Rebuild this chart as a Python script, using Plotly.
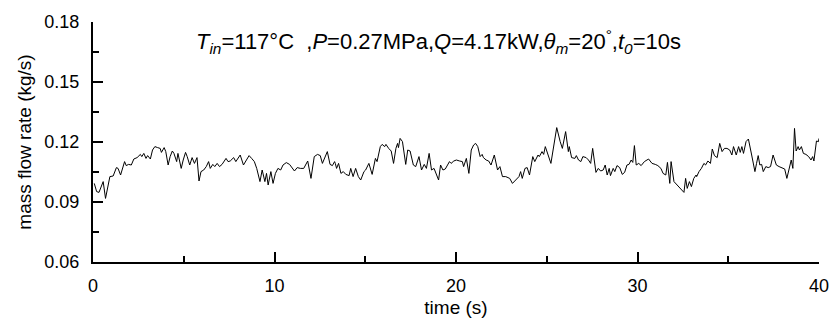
import plotly.graph_objects as go

# time (s) and mass flow rate (kg/s)
time_s = [
    0.07, 0.20, 0.33, 0.56, 0.69, 0.93, 1.11, 1.29, 1.38, 1.52, 1.74, 1.83, 1.96, 2.11, 2.25, 2.43,
    2.61, 2.69, 2.80, 2.92, 3.01, 3.16, 3.28, 3.41, 3.56, 3.70, 3.77, 3.92, 4.01, 4.14, 4.25, 4.37,
    4.46, 4.61, 4.68, 4.79, 4.86, 4.97, 5.10, 5.19, 5.33, 5.46, 5.59, 5.73, 5.84, 5.95, 6.10, 6.24,
    6.37, 6.46, 6.60,
    6.71, 6.84, 6.97, 7.11, 7.33, 7.44, 7.56, 7.75, 7.87, 8.11, 8.29, 8.42, 8.60, 8.74, 8.89, 9.02,
    9.20, 9.32, 9.47, 9.56, 9.65, 9.80, 9.92, 10.05, 10.19, 10.34, 10.47, 10.65, 10.83, 11.10, 11.25,
    11.43, 11.61, 11.83, 12.01, 12.19, 12.37, 12.52, 12.64, 12.91, 13.06, 13.19, 13.31,
    13.35, 13.42, 13.53, 13.66, 13.79, 13.93, 14.11, 14.20, 14.33, 14.47, 14.62, 14.75, 14.93, 15.02,
    15.20, 15.38, 15.56, 15.65, 15.83, 15.93, 16.07, 16.14, 16.29, 16.43, 16.56, 16.69, 16.78, 16.83,
    16.92, 17.05, 17.23, 17.34, 17.47, 17.65, 17.78, 17.96, 18.10, 18.25, 18.37, 18.52, 18.65, 18.79,
    19.04, 19.15, 19.28, 19.41, 19.64, 19.73, 19.88,
    20.02, 20.20, 20.35, 20.42, 20.57, 20.71, 20.84, 20.97, 21.08, 21.20, 21.33, 21.44, 21.51, 21.66,
    21.80, 21.93, 22.11, 22.29, 22.42, 22.56, 22.74, 22.96, 23.11, 23.29, 23.47, 23.56, 23.65, 23.80,
    23.92, 24.05, 24.23, 24.34, 24.52, 24.59, 24.74, 24.83, 24.92, 25.23, 25.37, 25.55, 25.74, 25.86,
    26.04, 26.19, 26.24, 26.37, 26.55,
    26.63, 26.75, 26.88, 26.99, 27.17, 27.30, 27.42, 27.53, 27.71, 27.84, 27.97, 28.11, 28.22, 28.33,
    28.44, 28.51, 28.66, 28.75, 28.87, 29.02, 29.16, 29.29, 29.42, 29.53, 29.65, 29.74, 29.83, 29.93,
    30.07, 30.20, 30.38, 30.61, 30.80, 30.98, 31.12, 31.29, 31.41, 31.56, 31.65, 31.78, 31.85, 32.01,
    32.19, 32.32, 32.56, 32.65, 32.74, 32.86, 32.97, 33.10, 33.23,
    33.26, 33.39, 33.52, 33.66, 33.75, 33.88, 34.02, 34.12, 34.24, 34.39, 34.53, 34.66, 34.79, 34.93,
    35.08, 35.20, 35.29, 35.44, 35.57, 35.66, 35.75, 35.84, 35.98, 36.11, 36.29, 36.47, 36.56, 36.65,
    36.74, 36.84, 36.93, 37.07, 37.20, 37.33, 37.47, 37.65, 37.80, 37.92, 38.11, 38.23, 38.38, 38.47,
    38.56, 38.65, 38.74, 38.85, 38.92, 39.03, 39.14, 39.28, 39.43, 39.56, 39.65, 39.72, 39.86, 39.97,
    40.00,
]

mass_flow = [
    0.0993, 0.0952, 0.0948, 0.1002, 0.0918, 0.1027, 0.1030, 0.1072, 0.1068, 0.1035, 0.1102, 0.1082,
    0.1088, 0.1085, 0.1115, 0.1122, 0.1138, 0.1127, 0.1143, 0.1118, 0.1132, 0.1115, 0.1160, 0.1177,
    0.1172, 0.1168, 0.1148, 0.1172, 0.1152, 0.1085, 0.1127, 0.1155, 0.1143, 0.1102, 0.1143, 0.1102,
    0.1068, 0.1110, 0.1148, 0.1127, 0.1085, 0.1122, 0.1093, 0.1122, 0.1005, 0.1052, 0.1060, 0.1077,
    0.1102, 0.1068, 0.1088,
    0.1077, 0.1093, 0.1077, 0.1088, 0.1118, 0.1102, 0.1105, 0.1122, 0.1102, 0.1135, 0.1085, 0.1102,
    0.1132, 0.1118, 0.1102, 0.1068, 0.1002, 0.1060, 0.1002, 0.1043, 0.0985, 0.1052, 0.0993, 0.1043,
    0.1068, 0.1060, 0.1085, 0.1097, 0.1088, 0.1055, 0.1072, 0.1068, 0.1068, 0.1105, 0.1018, 0.1127,
    0.1138, 0.1132, 0.1093, 0.1152, 0.1088, 0.1082, 0.1102,
    0.1093, 0.1068, 0.1093, 0.1043, 0.1052, 0.1038, 0.1032, 0.1068, 0.1027, 0.1068, 0.1027, 0.1010,
    0.1052, 0.1060, 0.1093, 0.1038, 0.1118, 0.1102, 0.1177, 0.1188, 0.1177, 0.1188, 0.1168, 0.1155,
    0.1093, 0.1168, 0.1193, 0.1172, 0.1218, 0.1202, 0.1088, 0.1160, 0.1155, 0.1085, 0.1077, 0.1127,
    0.1060, 0.1088, 0.1068, 0.1143, 0.1060, 0.1068, 0.1010, 0.1085, 0.1060, 0.1065, 0.1102, 0.1093,
    0.1105,
    0.1110, 0.1105, 0.1102, 0.1077, 0.1118, 0.1043, 0.1160, 0.1185, 0.1193, 0.1177, 0.1127, 0.1138,
    0.1122, 0.1110, 0.1105, 0.1085, 0.1135, 0.1060, 0.1077, 0.1027, 0.1027, 0.1018, 0.0993, 0.1010,
    0.1027, 0.1052, 0.1018, 0.1068, 0.1072, 0.1035, 0.1127, 0.1102, 0.1135, 0.1127, 0.1152, 0.1138,
    0.1177, 0.1093, 0.1177, 0.1272, 0.1202, 0.1168, 0.1252, 0.1152, 0.1177, 0.1122, 0.1118,
    0.1132, 0.1110, 0.1102, 0.1127, 0.1122, 0.1110, 0.1093, 0.1168, 0.1048, 0.1068, 0.1055, 0.1060,
    0.1085, 0.1035, 0.1068, 0.1032, 0.1068, 0.1052, 0.1082, 0.1072, 0.1038, 0.1048, 0.1085, 0.1088,
    0.1110, 0.1098, 0.1182, 0.1085, 0.1093, 0.1082, 0.1102, 0.1115, 0.1093, 0.1088, 0.1082, 0.1068,
    0.1043, 0.1035, 0.1098, 0.0993, 0.1102, 0.1002, 0.0985, 0.0972, 0.0948, 0.1018, 0.0968, 0.1002,
    0.0977, 0.1018, 0.1035,
    0.1027, 0.1052, 0.1068, 0.1093, 0.1085, 0.1105, 0.1093, 0.1165, 0.1132, 0.1122, 0.1193, 0.1152,
    0.1168, 0.1168, 0.1160, 0.1135, 0.1177, 0.1135, 0.1177, 0.1148, 0.1177, 0.1143, 0.1202, 0.1215,
    0.1135, 0.1052, 0.1093, 0.1132, 0.1085, 0.1088, 0.1052, 0.1077, 0.1072, 0.1077, 0.1135, 0.1085,
    0.1077, 0.1072, 0.1065, 0.1018, 0.1077, 0.1110, 0.1068, 0.1268, 0.1155, 0.1177, 0.1160, 0.1177,
    0.1143, 0.1138, 0.1127, 0.1110, 0.1127, 0.1105, 0.1205, 0.1202, 0.1218,
]

x_ticks = [0, 10, 20, 30, 40]
y_ticks = [0.06, 0.09, 0.12, 0.15, 0.18]
y_tick_text = ["0.06", "0.09", "0.12", "0.15", "0.18"]

FONT = "Liberation Sans, Arial, Helvetica, sans-serif"

fig = go.Figure()
fig.add_trace(go.Scatter(
    x=time_s, y=mass_flow, mode="lines",
    line=dict(color="black", width=1),
    showlegend=False, hoverinfo="skip", cliponaxis=False,
))

axis_common = dict(
    showline=True, linecolor="black", linewidth=2,
    ticks="inside", ticklen=10, tickwidth=1.5, tickcolor="black",
    showgrid=False, zeroline=False, mirror=False,
    tickfont=dict(family=FONT, size=18, color="black"),
    ticklabeloverflow="allow",
)

fig.update_xaxes(
    range=[0, 40], tickvals=x_ticks,
    minor=dict(ticks="inside", ticklen=6, tickwidth=1.5, tickcolor="black", dtick=5, tick0=0),
    title=dict(text="time (s)", font=dict(family=FONT, size=19, color="black"), standoff=6),
    ticklabelstandoff=6,
    **axis_common,
)
fig.update_yaxes(
    range=[0.06, 0.18], tickvals=y_ticks, ticktext=y_tick_text,
    minor=dict(ticks="inside", ticklen=6, tickwidth=1.5, tickcolor="black", dtick=0.015, tick0=0.06),
    title=dict(text="mass flow rate (kg/s)", font=dict(family=FONT, size=19, color="black"), standoff=8),
    ticklabelstandoff=8,
    **axis_common,
)

fig.add_annotation(
    xref="paper", yref="paper", x=0.1386, y=0.99, xanchor="left", yanchor="top",
    showarrow=False,
    text=("<i>T</i><sub><i>in</i></sub>=117°C  ,<i>P</i>=0.27MPa,<i>Q</i>=4.17kW,"
          "<i>θ</i><sub><i>m</i></sub>=20<sup>°</sup>,<i>t</i><sub><i>0</i></sub>=10s"),
    font=dict(family=FONT, size=22, color="black"),
)

fig.update_layout(
    width=839, height=325,
    margin=dict(l=93, r=10, t=22, b=63),
    plot_bgcolor="white", paper_bgcolor="white",
)

fig.write_html("out.html")
